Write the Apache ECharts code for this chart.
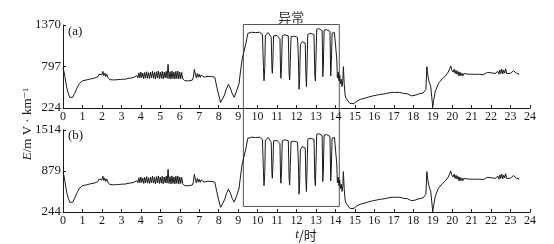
<!DOCTYPE html>
<html><head><meta charset="utf-8">
<script src="https://cdn.jsdelivr.net/npm/echarts@6/dist/echarts.min.js"></script>
<style>html,body{margin:0;padding:0;background:#fff}#c{width:554px;height:244px}</style>
</head><body><div id="c"></div>
<script>
// time (hours)
const hours = [
0.00,0.05,0.10,0.15,0.20,0.25,0.30,0.35,0.40,0.45,0.50,0.55,0.60,0.65,0.70,0.75,0.80,0.85,0.90,0.95,
1.00,1.10,1.20,1.30,1.40,1.50,1.60,1.70,1.80,1.85,1.90,1.95,2.00,2.05,2.10,2.15,2.20,2.25,2.30,2.40,
2.50,2.60,2.70,2.80,2.90,3.00,3.10,3.20,3.30,3.40,3.50,3.60,3.70,3.80,3.85,3.90,3.95,4.00,4.05,4.10,
4.15,4.20,4.25,4.30,4.35,4.40,4.45,4.50,4.55,4.60,4.65,4.70,4.75,4.80,4.85,4.90,4.95,5.00,5.05,5.10,
5.15,5.20,5.25,5.30,5.35,5.40,5.43,5.45,5.50,5.55,5.60,5.65,5.70,5.75,5.80,5.85,5.90,5.95,6.00,6.05,
6.10,6.15,6.20,6.25,6.35,6.45,6.55,6.65,6.70,6.75,6.80,6.85,6.90,6.95,7.00,7.05,7.10,7.15,7.20,7.25,
7.30,7.40,7.50,7.60,7.70,7.80,7.90,8.00,8.10,8.15,8.20,8.30,8.40,8.50,8.60,8.70,8.80,8.85,8.95,9.05,
9.10,9.20,9.30,9.40,9.50,9.60,9.70,9.80,9.90,10.00,10.10,10.20,10.25,10.30,10.33,10.37,10.40,10.45,10.55,10.65,
10.70,10.74,10.76,10.79,10.82,10.90,11.00,11.10,11.15,11.18,11.20,11.23,11.27,11.40,11.50,11.58,11.62,11.65,11.68,11.72,
11.85,11.95,12.05,12.10,12.13,12.16,12.20,12.30,12.40,12.45,12.48,12.51,12.54,12.58,12.70,12.80,12.90,12.94,12.97,13.00,
13.04,13.15,13.25,13.32,13.35,13.38,13.42,13.55,13.65,13.72,13.76,13.79,13.83,13.95,14.03,14.07,14.10,14.14,14.18,14.22,
14.26,14.30,14.34,14.38,14.41,14.45,14.50,14.55,14.65,14.75,14.85,14.95,15.10,15.30,15.50,15.70,15.90,16.10,16.30,16.50,
16.70,16.90,17.00,17.10,17.20,17.30,17.40,17.50,17.60,17.70,17.80,17.90,18.00,18.10,18.20,18.30,18.40,18.50,18.60,18.65,
18.70,18.75,18.80,18.85,18.90,18.95,19.00,19.05,19.13,19.20,19.30,19.40,19.50,19.55,19.65,19.73,19.80,19.85,19.93,19.97,
20.00,20.05,20.10,20.15,20.20,20.25,20.30,20.35,20.40,20.45,20.50,20.55,20.60,20.70,20.80,20.90,21.00,21.10,21.20,21.30,
21.40,21.50,21.60,21.70,21.80,21.90,22.00,22.10,22.20,22.30,22.35,22.40,22.45,22.50,22.55,22.60,22.65,22.70,22.75,22.80,
22.90,23.00,23.10,23.15,23.20,23.30,23.40,23.45
];
// panel (a) E (mV/km)
const seriesA = [
776,730,657,570,496,445,404,370,349,355,372,395,427,455,490,519,540,565,587,580,
600,605,611,608,625,629,635,645,657,690,665,715,680,730,670,705,660,690,650,615,
597,612,620,615,625,620,628,622,640,635,648,642,655,670,640,710,640,720,645,705,
630,715,640,725,635,710,630,720,640,730,635,715,625,725,640,735,630,720,635,730,
625,720,640,730,635,827,700,630,725,625,735,630,720,625,730,630,735,625,720,630,
715,630,650,601,605,598,603,610,650,758,690,640,700,650,690,645,680,655,675,650,
670,660,666,660,655,648,520,404,300,289,320,404,490,551,500,420,372,390,482,565,
680,887,1002,1117,1255,1278,1270,1290,1265,1280,1270,1260,1240,800,600,780,1230,1255,1265,1250,
1200,750,703,900,1220,1235,1225,1230,1180,720,634,800,1220,1235,1225,1220,700,611,850,1210,
1215,1205,1200,900,482,620,1100,1140,1150,1120,700,519,800,1240,1255,1250,1240,700,597,900,
1310,1320,1315,1290,657,800,1300,1305,1295,1280,666,850,1260,1265,1250,900,640,720,600,680,
560,620,520,600,795,560,400,358,320,285,266,285,320,345,358,375,390,400,412,418,
430,440,445,438,445,440,430,425,432,420,400,392,390,400,415,420,425,430,445,480,
795,680,600,560,519,380,240,330,450,500,565,590,630,615,665,680,720,700,804,750,
770,720,760,700,745,690,730,665,720,670,705,668,700,685,692,686,690,682,688,680,
690,686,682,695,715,740,710,690,700,695,730,690,750,700,760,695,745,705,765,700,
710,703,720,740,728,705,695,690
];
// panel (b) E (mV/km)
const seriesB = [
862,805,716,618,536,478,432,394,371,378,397,422,458,490,529,561,585,613,637,630,
652,658,664,661,680,684,691,702,716,753,725,781,742,798,730,770,719,753,708,669,
649,665,674,669,680,674,683,677,697,691,706,699,714,730,697,775,697,786,702,770,
686,781,697,792,691,775,686,786,697,798,691,781,680,792,697,803,686,786,691,798,
680,786,697,798,691,906,764,686,792,680,803,686,786,680,798,686,803,680,786,686,
781,686,708,653,658,650,655,663,708,829,753,697,764,708,753,702,742,714,736,708,
730,719,726,719,714,706,562,432,316,304,338,432,529,597,540,450,397,417,520,613,
742,973,1102,1231,1386,1411,1402,1425,1397,1414,1402,1391,1369,876,652,854,1358,1386,1397,1380,
1324,820,767,988,1346,1363,1352,1358,1302,786,690,876,1346,1363,1352,1346,764,664,932,1335,
1341,1330,1324,988,520,674,1212,1257,1268,1234,764,561,876,1369,1386,1380,1369,764,649,988,
1447,1458,1453,1425,716,876,1436,1442,1430,1414,726,932,1391,1397,1380,988,697,786,652,742,
607,674,562,652,870,607,428,381,338,299,278,299,338,366,381,400,417,428,441,448,
462,473,478,471,478,473,462,456,464,450,428,419,417,428,445,450,456,462,478,518,
870,742,652,607,561,406,249,350,484,540,613,641,686,669,725,742,786,764,880,820,
842,786,831,764,814,753,798,725,786,730,770,728,764,747,755,748,753,744,751,742,
753,748,744,758,781,809,775,753,764,758,798,753,820,764,831,758,814,770,837,764,
775,767,786,809,795,770,758,753
];
const xTickRange = [0, 24, 1];
const yTicksA = [224, 797, 1370];
const yTicksB = [244, 879, 1514];
const panelLabels = ['(a)', '(b)'];
const anomalyRange = [9.27, 14.2];
const anomalyFloorB = 330;
const anomalyLabel = '异常';
const yTitle = '/m V · km⁻¹';
const xTitle = '/时';

const serif = '"Liberation Serif","DejaVu Serif",serif';
const ink = '#1a1a1a';
const chart = echarts.init(document.getElementById('c'), null, {renderer: 'canvas'});

function xAx(i) {
  return {
    type: 'value', gridIndex: i, min: xTickRange[0], max: xTickRange[1], interval: xTickRange[2],
    axisLine: {lineStyle: {color: ink, width: 1}},
    axisTick: {inside: true, length: 3, lineStyle: {color: ink}},
    axisLabel: {fontFamily: serif, fontSize: 12, color: ink, margin: 3, formatter: v => String(v)},
    splitLine: {show: false}
  };
}
function yAx(i, ticks) {
  return {
    type: 'value', gridIndex: i, min: ticks[0], max: ticks[ticks.length - 1],
    axisLine: {show: true, lineStyle: {color: ink, width: 1}},
    axisTick: {show: true, inside: true, length: 3, customValues: ticks, lineStyle: {color: ink}},
    axisLabel: {fontFamily: serif, fontSize: 13, color: ink, margin: 2, customValues: ticks,
      formatter: v => String(v)},
    splitLine: {show: false}
  };
}
function ser(i, vals) {
  return {
    type: 'line', xAxisIndex: i, yAxisIndex: i, showSymbol: false, symbol: 'none',
    data: hours.map((h, k) => [h, vals[k]]),
    lineStyle: {color: ink, width: 1}, animation: false
  };
}

chart.setOption({
  animation: false,
  backgroundColor: '#fff',
  grid: [
    {left: 63, top: 25, width: 467, height: 83},
    {left: 63, top: 130, width: 467, height: 82}
  ],
  xAxis: [xAx(0), xAx(1)],
  yAxis: [yAx(0, yTicksA), yAx(1, yTicksB)],
  series: [ser(0, seriesA), ser(1, seriesB)]
});

const pTL = chart.convertToPixel({xAxisIndex: 0, yAxisIndex: 0}, [anomalyRange[0], yTicksA[2]]);
const pBR = chart.convertToPixel({xAxisIndex: 1, yAxisIndex: 1}, [anomalyRange[1], anomalyFloorB]);

chart.setOption({
  graphic: [
    {type: 'rect', shape: {x: pTL[0], y: pTL[1] - 0.5, width: pBR[0] - pTL[0], height: pBR[1] - pTL[1] + 0.5},
     style: {fill: 'none', stroke: '#555', lineWidth: 1}, silent: true},
    {type: 'text', x: (pTL[0] + pBR[0]) / 2, y: 17,
     style: {text: anomalyLabel, fontSize: 13, fontFamily: '"Noto Sans CJK SC"', fill: '#333',
       align: 'center', verticalAlign: 'middle'}},
    {type: 'text', x: 68, y: 32, style: {text: panelLabels[0], fontSize: 13, fontFamily: serif, fill: ink,
       align: 'left', verticalAlign: 'middle'}},
    {type: 'text', x: 68, y: 136, style: {text: panelLabels[1], fontSize: 13, fontFamily: serif, fill: ink,
       align: 'left', verticalAlign: 'middle'}},
    {type: 'text', x: 28, y: 124, rotation: Math.PI / 2,
     style: {text: '{i|E}{n|' + yTitle + '}', align: 'center', verticalAlign: 'middle',
       rich: {i: {fontStyle: 'italic', fontSize: 13, fontFamily: serif, fill: ink},
              n: {fontSize: 13, fontFamily: serif, fill: ink}}}},
    {type: 'text', x: 306, y: 235,
     style: {text: '{i|t}{n|' + xTitle + '}', align: 'center', verticalAlign: 'middle',
       rich: {i: {fontStyle: 'italic', fontSize: 13, fontFamily: serif, fill: ink},
              n: {fontSize: 13, fontFamily: '"Noto Sans CJK SC"', fill: ink}}}}
  ]
});
</script></body></html>
